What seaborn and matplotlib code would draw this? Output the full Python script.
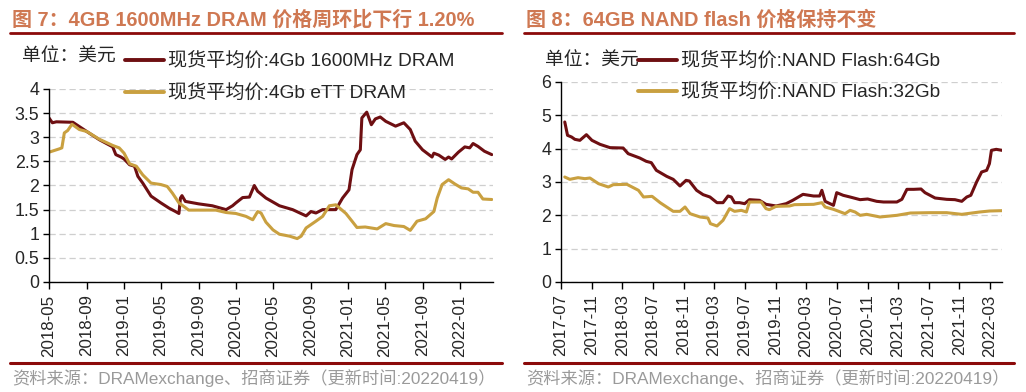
import matplotlib
matplotlib.use("Agg")
import matplotlib.pyplot as plt
import matplotlib.dates as mdates
import seaborn as sns
import pandas as pd

# ---------------- data ----------------
dram_1600_dates = ["2018-05-01", "2018-05-12", "2018-05-25", "2018-07-18", "2018-09-01", "2018-10-12",
                   "2018-11-25", "2018-12-05", "2018-12-22", "2019-01-01", "2019-01-19", "2019-02-04",
                   "2019-02-15", "2019-03-03", "2019-03-30", "2019-05-01", "2019-05-28", "2019-06-18",
                   "2019-06-29", "2019-07-04", "2019-07-09", "2019-07-20", "2019-09-01", "2019-10-16",
                   "2019-11-30", "2019-12-21", "2020-01-01", "2020-01-23", "2020-02-14", "2020-03-01",
                   "2020-03-12", "2020-04-08", "2020-05-22", "2020-07-04", "2020-08-17", "2020-09-02",
                   "2020-09-18", "2020-10-10", "2020-11-22", "2020-12-14", "2021-01-04", "2021-01-14",
                   "2021-01-30", "2021-02-10", "2021-02-15", "2021-03-03", "2021-03-18", "2021-03-31",
                   "2021-04-16", "2021-05-04", "2021-06-05", "2021-07-02", "2021-07-23", "2021-08-08",
                   "2021-09-01", "2021-10-02", "2021-10-08", "2021-10-24", "2021-11-14", "2021-11-25",
                   "2021-12-05", "2021-12-27", "2022-01-17", "2022-02-02", "2022-02-13", "2022-03-01",
                   "2022-03-22", "2022-04-15"]
dram_1600_vals = [3.40, 3.30, 3.32, 3.31, 3.12, 2.95,
                  2.80, 2.64, 2.59, 2.55, 2.43, 2.40,
                  2.19, 2.05, 1.78, 1.64, 1.53, 1.46,
                  1.42, 1.74, 1.79, 1.67, 1.62, 1.58,
                  1.50, 1.58, 1.64, 1.75, 1.76, 2.00,
                  1.88, 1.74, 1.58, 1.50, 1.37, 1.46,
                  1.43, 1.50, 1.50, 1.74, 1.91, 2.33,
                  2.64, 2.74, 3.40, 3.52, 3.26, 3.38,
                  3.42, 3.33, 3.23, 3.30, 3.16, 2.92,
                  2.74, 2.59, 2.67, 2.63, 2.54, 2.59,
                  2.55, 2.69, 2.80, 2.78, 2.87, 2.81,
                  2.71, 2.64]

dram_ett_dates = ["2018-05-01", "2018-06-04", "2018-06-12", "2018-06-20", "2018-07-01", "2018-07-15",
                  "2018-08-08", "2018-09-01", "2018-10-12", "2018-11-25", "2018-12-16", "2019-01-01",
                  "2019-01-19", "2019-02-10", "2019-03-03", "2019-03-30", "2019-05-01", "2019-05-22",
                  "2019-06-08", "2019-06-29", "2019-07-31", "2019-10-27", "2019-11-30", "2020-01-01",
                  "2020-02-03", "2020-02-25", "2020-03-12", "2020-03-23", "2020-04-08", "2020-05-01",
                  "2020-05-22", "2020-06-24", "2020-07-19", "2020-08-01", "2020-08-17", "2020-09-18",
                  "2020-10-10", "2020-11-01", "2020-11-22", "2020-12-25", "2021-01-14", "2021-01-30",
                  "2021-02-26", "2021-04-06", "2021-05-04", "2021-05-31", "2021-07-02", "2021-07-23",
                  "2021-08-14", "2021-09-11", "2021-10-08", "2021-10-19", "2021-11-04", "2021-11-25",
                  "2021-12-16", "2022-01-06", "2022-01-28", "2022-02-13", "2022-03-01", "2022-03-17",
                  "2022-04-15"]
dram_ett_vals = [2.69, 2.76, 2.78, 3.09, 3.14, 3.27,
                 3.16, 3.12, 2.96, 2.83, 2.78, 2.67,
                 2.45, 2.40, 2.22, 2.05, 2.02, 1.98,
                 1.84, 1.64, 1.49, 1.49, 1.44, 1.42,
                 1.36, 1.29, 1.46, 1.43, 1.24, 1.08,
                 0.99, 0.95, 0.90, 0.95, 1.12, 1.26,
                 1.36, 1.58, 1.60, 1.42, 1.26, 1.13,
                 1.14, 1.10, 1.21, 1.17, 1.15, 1.07,
                 1.26, 1.31, 1.46, 1.74, 2.02, 2.12,
                 2.03, 1.95, 1.93, 1.86, 1.86, 1.72,
                 1.71]

nand64_dates = ["2017-07-16", "2017-07-27", "2017-08-12", "2017-08-25", "2017-09-14", "2017-10-10",
                "2017-11-01", "2017-12-03", "2018-01-12", "2018-03-05", "2018-03-25", "2018-05-10",
                "2018-06-05", "2018-06-25", "2018-07-15", "2018-08-25", "2018-09-20", "2018-10-17",
                "2018-11-10", "2018-11-23", "2018-12-22", "2019-01-17", "2019-02-13", "2019-03-13",
                "2019-04-06", "2019-04-26", "2019-05-09", "2019-05-22", "2019-06-11", "2019-07-01",
                "2019-07-20", "2019-08-29", "2019-09-24", "2019-11-03", "2019-12-13", "2020-01-08",
                "2020-02-18", "2020-03-31", "2020-04-24", "2020-05-03", "2020-05-16", "2020-06-18",
                "2020-07-01", "2020-07-27", "2020-08-23", "2020-10-02", "2020-11-01", "2020-12-07",
                "2021-01-03", "2021-02-25", "2021-03-17", "2021-04-06", "2021-05-03", "2021-06-01",
                "2021-06-17", "2021-07-27", "2021-09-11", "2021-10-14", "2021-11-10", "2021-11-30",
                "2021-12-16", "2022-01-08", "2022-01-28", "2022-02-17", "2022-02-28", "2022-03-08",
                "2022-03-27", "2022-04-19"]
nand64_vals = [4.80, 4.40, 4.35, 4.28, 4.25, 4.42,
               4.25, 4.13, 4.03, 4.02, 3.85, 3.72,
               3.62, 3.58, 3.35, 3.17, 3.08, 2.88,
               3.05, 3.03, 2.75, 2.62, 2.55, 2.38,
               2.38, 2.58, 2.55, 2.38, 2.38, 2.35,
               2.47, 2.45, 2.33, 2.28, 2.35, 2.45,
               2.63, 2.58, 2.58, 2.75, 2.42, 2.30,
               2.68, 2.60, 2.55, 2.47, 2.49, 2.42,
               2.40, 2.40, 2.48, 2.78, 2.78, 2.79,
               2.68, 2.52, 2.48, 2.47, 2.42, 2.55,
               2.60, 3.00, 3.30, 3.35, 3.55, 3.95,
               3.98, 3.95]

nand32_dates = ["2017-07-16", "2017-08-05", "2017-09-07", "2017-10-04", "2017-10-24", "2017-11-27",
                "2018-01-05", "2018-01-25", "2018-03-20", "2018-05-05", "2018-05-25", "2018-06-28",
                "2018-07-30", "2018-08-25", "2018-09-20", "2018-10-17", "2018-11-06", "2018-11-26",
                "2019-01-05", "2019-02-05", "2019-02-15", "2019-03-13", "2019-04-06", "2019-05-02",
                "2019-05-22", "2019-06-18", "2019-07-08", "2019-07-20", "2019-09-05", "2019-09-24",
                "2019-10-07", "2019-11-03", "2019-12-26", "2020-01-15", "2020-03-31", "2020-05-03",
                "2020-05-16", "2020-06-18", "2020-08-03", "2020-08-23", "2020-09-12", "2020-10-02",
                "2020-10-28", "2020-12-20", "2021-02-25", "2021-04-20", "2021-07-07", "2021-09-11",
                "2021-11-10", "2022-01-20", "2022-03-01", "2022-04-19"]
nand32_vals = [3.15, 3.08, 3.13, 3.10, 3.12, 2.95,
               2.85, 2.92, 2.93, 2.75, 2.55, 2.57,
               2.38, 2.25, 2.12, 2.12, 2.25, 2.05,
               1.95, 1.92, 1.75, 1.68, 1.85, 2.20,
               2.12, 2.15, 2.10, 2.40, 2.40, 2.20,
               2.17, 2.27, 2.28, 2.32, 2.33, 2.38,
               2.25, 2.18, 2.05, 2.15, 2.10, 2.00,
               2.03, 1.95, 2.00, 2.07, 2.08, 2.08,
               2.03, 2.10, 2.13, 2.14]

left_title = "图 7：4GB 1600MHz DRAM 价格周环比下行 1.20%"
right_title = "图 8：64GB NAND flash 价格保持不变"
left_labels = ["现货平均价:4Gb 1600MHz DRAM", "现货平均价:4Gb eTT DRAM"]
right_labels = ["现货平均价:NAND Flash:64Gb", "现货平均价:NAND Flash:32Gb"]
unit_text = "单位：美元"
source_text = "资料来源：DRAMexchange、招商证券（更新时间:20220419）"

# ---------------- style ----------------
sns.set_theme(style="white")
plt.rcParams['font.family'] = ['Liberation Sans', 'Noto Sans CJK SC', 'DejaVu Sans']
plt.rcParams['axes.unicode_minus'] = False

DARK = "#6E0F12"
GOLD = "#C9A040"
TITLE_C = "#CF7852"
RULE_C = "#8B0A0A"

W, H = 1026, 392
fig = plt.figure(figsize=(W / 100, H / 100), dpi=100)


def fx(px):
    return px / W


def fy(py):
    return 1 - py / H


axL = fig.add_axes([fx(49), fy(282), fx(493 - 49), (282 - 89) / H])
axR = fig.add_axes([fx(561), fy(282), fx(1002 - 561), (282 - 82) / H])

dfL1 = pd.DataFrame({"date": pd.to_datetime(dram_1600_dates), "v": dram_1600_vals})
dfL2 = pd.DataFrame({"date": pd.to_datetime(dram_ett_dates), "v": dram_ett_vals})
dfR1 = pd.DataFrame({"date": pd.to_datetime(nand64_dates), "v": nand64_vals})
dfR2 = pd.DataFrame({"date": pd.to_datetime(nand32_dates), "v": nand32_vals})

sns.lineplot(data=dfL1, x="date", y="v", ax=axL, color=DARK, lw=2.2, label=left_labels[0])
sns.lineplot(data=dfL2, x="date", y="v", ax=axL, color=GOLD, lw=2.2, label=left_labels[1])
sns.lineplot(data=dfR1, x="date", y="v", ax=axR, color=DARK, lw=2.2, label=right_labels[0])
sns.lineplot(data=dfR2, x="date", y="v", ax=axR, color=GOLD, lw=2.2, label=right_labels[1])

axL.set_xlim(pd.Timestamp("2018-05-01"), pd.Timestamp("2022-04-19"))
axR.set_xlim(pd.Timestamp("2017-07-01"), pd.Timestamp("2022-04-19"))
axL.set_ylim(0, 4)
axR.set_ylim(0, 6)
axL.set_yticks([0, 0.5, 1, 1.5, 2, 2.5, 3, 3.5, 4])
axL.set_yticklabels(["0", "0.5", "1", "1.5", "2", "2.5", "3", "3.5", "4"])
axR.set_yticks([0, 1, 2, 3, 4, 5, 6])

axL.xaxis.set_major_locator(mdates.MonthLocator(bymonth=[1, 5, 9]))
axR.xaxis.set_major_locator(mdates.MonthLocator(bymonth=[3, 7, 11]))
for ax in (axL, axR):
    ax.xaxis.set_major_formatter(mdates.DateFormatter("%Y-%m"))
    ax.set_xlabel("")
    ax.set_ylabel("")
    for s in ("top", "right"):
        ax.spines[s].set_visible(False)
    for s in ("left", "bottom"):
        ax.spines[s].set_color("black")
        ax.spines[s].set_linewidth(1.0)
    ax.tick_params(axis="x", which="major", direction="out", length=5, width=1, color="black",
                   labelsize=12.2, labelrotation=90, pad=4, bottom=True)
    ax.tick_params(axis="y", which="major", direction="out", length=4, width=1, color="black",
                   labelsize=12.8, pad=3, left=True)
    ax.grid(axis="y", color="#CFCFCF", linestyle=(0, (5, 3)), linewidth=0.9)
    ax.grid(axis="x", visible=False)
    ax.set_axisbelow(True)
    for lab in ax.get_xticklabels():
        lab.set_verticalalignment("top")
    ax.get_legend().remove()


# legends as separate entries, placed like the reference
def place_legends(ax, labels, x_handle, ys):
    handles = ax.get_lines()[:2]
    for i, (h, lab, y) in enumerate(zip(handles, labels, ys)):
        leg = ax.legend([h], [lab], loc="center left", bbox_to_anchor=(fx(x_handle), fy(y)),
                        bbox_transform=fig.transFigure, frameon=False, handlelength=2.05,
                        handletextpad=0.2, borderpad=0, borderaxespad=0, fontsize=13.8)
        for line in leg.get_lines():
            line.set_linewidth(2.8)
        if i == 0:
            ax.add_artist(leg)


place_legends(axL, left_labels, 125, [62, 94])
place_legends(axR, right_labels, 638, [62, 93])

# titles, rules, unit, source
for x0, x1, t in ((10, 502, left_title), (524, 1014, right_title)):
    fig.text(fx(x0 + 2), fy(20), t, color=TITLE_C, fontsize=14.4, fontweight="bold",
             va="center", ha="left")
    fig.add_artist(plt.Line2D([fx(x0), fx(x1)], [fy(33), fy(33)], color=RULE_C, lw=2.0))
    fig.add_artist(plt.Line2D([fx(x0), fx(x1)], [fy(363), fy(363)], color=RULE_C, lw=2.2))
    fig.text(fx(x0 + 2), fy(378), source_text, color="#9A9A9A", fontsize=12.4, va="center", ha="left")

fig.text(fx(22), fy(56), unit_text, fontsize=13.5, va="center", ha="left",
         family=['Noto Sans CJK SC', 'DejaVu Sans'])
fig.text(fx(545), fy(60), unit_text, fontsize=13.5, va="center", ha="left",
         family=['Noto Sans CJK SC', 'DejaVu Sans'])

fig.savefig("out.png", dpi=100)
